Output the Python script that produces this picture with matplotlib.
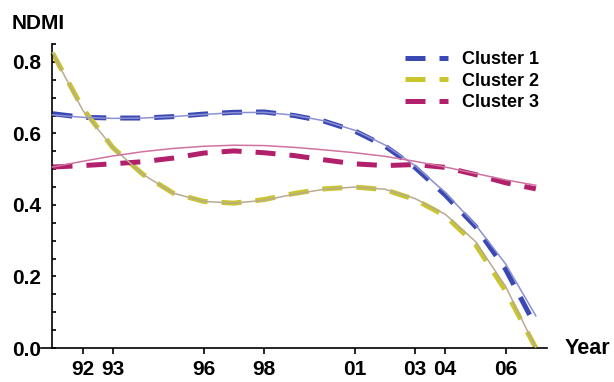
import matplotlib
matplotlib.use("Agg")
import matplotlib.pyplot as plt
from matplotlib.ticker import MultipleLocator

plt.rcParams["font.family"] = ["Liberation Sans", "DejaVu Sans"]
plt.rcParams["font.weight"] = "bold"

YEARS = list(range(1991, 2008))

# dashed curves (cluster means)
CLUSTER_1 = [0.655, 0.645, 0.643, 0.643, 0.647, 0.654, 0.659, 0.660, 0.650,
             0.634, 0.607, 0.565, 0.505, 0.428, 0.340, 0.220, 0.060]
CLUSTER_2 = [0.825, 0.670, 0.560, 0.485, 0.433, 0.410, 0.405, 0.415, 0.432,
             0.445, 0.450, 0.443, 0.415, 0.370, 0.290, 0.160, 0.000]
CLUSTER_3 = [0.506, 0.510, 0.515, 0.521, 0.531, 0.545, 0.551, 0.546, 0.538,
             0.526, 0.515, 0.510, 0.513, 0.505, 0.485, 0.462, 0.445]

# thin fitted curves
FIT_1 = [0.652, 0.645, 0.642, 0.643, 0.647, 0.653, 0.658, 0.659, 0.651,
         0.635, 0.609, 0.568, 0.510, 0.435, 0.345, 0.235, 0.090]
FIT_2 = [0.825, 0.665, 0.560, 0.485, 0.433, 0.410, 0.405, 0.413, 0.430,
         0.444, 0.450, 0.444, 0.418, 0.374, 0.298, 0.172, 0.000]
FIT_3 = [0.506, 0.522, 0.537, 0.549, 0.558, 0.564, 0.567, 0.566, 0.561,
         0.554, 0.546, 0.536, 0.522, 0.506, 0.488, 0.470, 0.455]

LABELS = ["Cluster 1", "Cluster 2", "Cluster 3"]
TICK_YEARS = [1992, 1993, 1996, 1998, 2001, 2003, 2004, 2006]
TICK_LABELS = ["92", "93", "96", "98", "01", "03", "04", "06"]

DASH_COLORS = ["#3a48b4", "#c9c52e", "#b2206c"]
FIT_COLORS = ["#8c90d2", "#b8ab90", "#d072a2"]

fig = plt.figure(figsize=(6.14, 3.82), dpi=100)
ax = fig.add_axes([41 / 614, 34 / 382, 506 / 614, 304 / 382])

handles = []
for vals, fit, dc, fc, lab in zip([CLUSTER_1, CLUSTER_2, CLUSTER_3],
                                  [FIT_1, FIT_2, FIT_3],
                                  DASH_COLORS, FIT_COLORS, LABELS):
    h, = ax.plot(YEARS, vals, color=dc, lw=3.6, dashes=(4, 2.8),
                 solid_capstyle="butt", dash_capstyle="butt", label=lab, zorder=2)
    ax.plot(YEARS, fit, color=fc, lw=1.1, zorder=3)
    handles.append(h)

ax.set_xlim(1990.62, 2007.37)
ax.set_ylim(0, 0.85)
ax.spines["left"].set_position(("data", 1991))
ax.spines["top"].set_visible(False)
ax.spines["right"].set_visible(False)
for s in ("left", "bottom"):
    ax.spines[s].set_linewidth(1.2)

ax.set_xticks(TICK_YEARS)
ax.set_xticklabels(TICK_LABELS)
ax.set_yticks([0.0, 0.2, 0.4, 0.6, 0.8])
ax.set_yticklabels(["0.0", "0.2", "0.4", "0.6", "0.8"])
ax.yaxis.set_minor_locator(MultipleLocator(0.05))
ax.tick_params(axis="x", direction="out", length=4.5, width=1.2, pad=4,
               labelsize=15)
ax.tick_params(axis="y", which="both", direction="in", length=3, width=1.2,
               pad=8.5, labelsize=15)

fig.text(12 / 614, 1 - 29 / 382, "NDMI", fontsize=15, fontweight="bold",
         va="baseline", ha="left")
fig.text(565 / 614, 1 - 348 / 382, "Year", fontsize=15.5, fontweight="bold",
         va="center", ha="left")

ax.legend(handles=handles, loc="upper left", bbox_to_anchor=(405 / 614, 1 - 51 / 382),
          bbox_transform=fig.transFigure, frameon=False, fontsize=13,
          handlelength=2.4, handletextpad=0.75, labelspacing=0.25,
          borderaxespad=0, borderpad=0)

fig.savefig("out.png", dpi=100)
